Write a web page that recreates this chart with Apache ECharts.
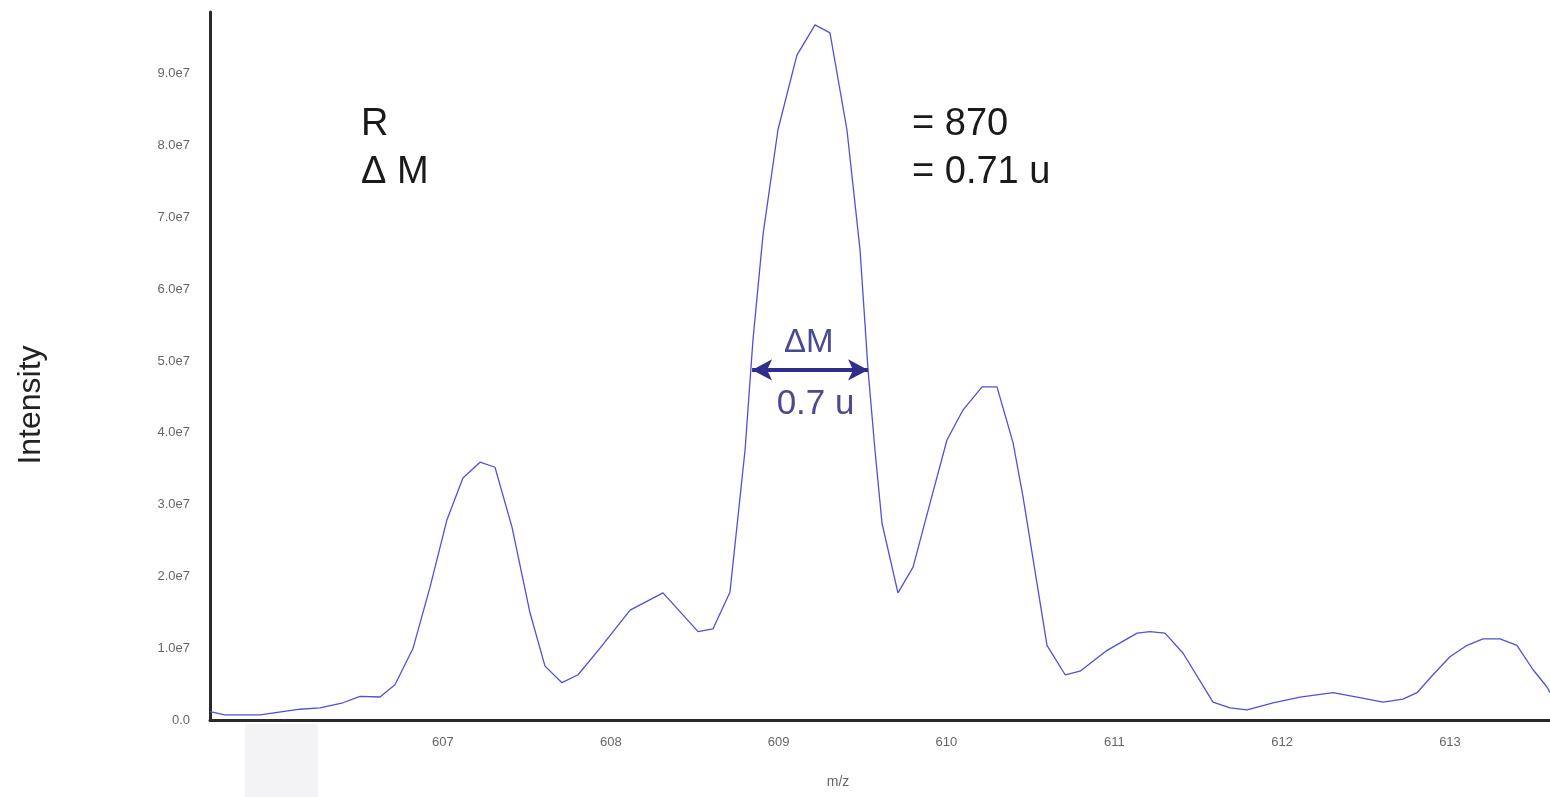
<!DOCTYPE html>
<html lang="en">
<head>
<meta charset="UTF-8">
<title>Intensity vs m/z</title>
<style>
  html, body { margin: 0; padding: 0; background: #fff; }
  #main { width: 1550px; height: 797px; }
</style>
</head>
<body>
<div id="main"></div>
<script src="https://cdn.jsdelivr.net/npm/echarts@6/dist/echarts.min.js"></script>
<script>
// m/z positions of the profile points
var mz = [
  605.612, 605.701, 605.910, 606.148, 606.267, 606.404, 606.506, 606.625, 606.714, 606.822,
  606.923, 607.024, 607.119, 607.221, 607.310, 607.411, 607.519, 607.608, 607.709, 607.805,
  607.936, 608.115, 608.311, 608.520, 608.609, 608.710, 608.800, 608.847, 608.907, 608.996,
  609.109, 609.217, 609.306, 609.407, 609.485, 609.533, 609.574, 609.616, 609.711, 609.801,
  609.902, 610.003, 610.099, 610.212, 610.301, 610.397, 610.456, 610.599, 610.707, 610.796,
  610.957, 611.136, 611.213, 611.302, 611.410, 611.588, 611.689, 611.791, 611.946, 612.107,
  612.303, 612.446, 612.601, 612.720, 612.804, 612.899, 613.000, 613.102, 613.197, 613.298,
  613.399, 613.495, 613.578, 613.596
];
// intensity at each point
var intensity = [
  1.16e6, 0.70e6, 0.70e6, 1.5e6, 1.7e6, 2.4e6, 3.3e6, 3.2e6, 4.9e6, 1.00e7,
  1.85e7, 2.79e7, 3.37e7, 3.59e7, 3.52e7, 2.69e7, 1.49e7, 7.5e6, 5.2e6, 6.3e6,
  1.00e7, 1.53e7, 1.77e7, 1.23e7, 1.27e7, 1.78e7, 3.76e7, 5.29e7, 6.76e7, 8.22e7,
  9.26e7, 9.68e7, 9.57e7, 8.22e7, 6.55e7, 4.87e7, 3.76e7, 2.74e7, 1.77e7, 2.13e7,
  3.02e7, 3.90e7, 4.32e7, 4.64e7, 4.64e7, 3.86e7, 3.11e7, 1.04e7, 6.3e6, 6.8e6,
  9.7e6, 1.21e7, 1.23e7, 1.21e7, 9.3e6, 2.5e6, 1.7e6, 1.4e6, 2.4e6, 3.2e6,
  3.8e6, 3.2e6, 2.5e6, 2.9e6, 3.8e6, 6.3e6, 8.8e6, 1.04e7, 1.13e7, 1.13e7,
  1.04e7, 7.0e6, 4.6e6, 3.8e6
];
var xTicks = [607, 608, 609, 610, 611, 612, 613];
// width of the main peak (arrow ends and height)
var fwhm = [[608.842, 4.875e7], [609.533, 4.875e7]];

var points = [];
for (var i = 0; i < mz.length; i++) points.push([mz[i], intensity[i]]);

var font = '"Liberation Sans", Arial, sans-serif';
var myChart = echarts.init(document.getElementById('main'));
var option = {
  animation: false,
  grid: { left: 210, right: 0, top: 12, bottom: 77 },
  xAxis: {
    type: 'value',
    min: 605.612,
    max: 613.596,
    axisLine: { lineStyle: { color: '#2a2a2a', width: 3 } },
    axisTick: { show: false },
    splitLine: { show: false },
    axisLabel: {
      customValues: xTicks,
      color: '#666',
      fontFamily: font,
      fontSize: 13,
      margin: 16
    }
  },
  yAxis: {
    type: 'value',
    min: 0,
    max: 9.86e7,
    interval: 1e7,
    axisLine: { show: true, lineStyle: { color: '#2a2a2a', width: 3 } },
    axisTick: { show: false },
    splitLine: { show: false },
    axisLabel: {
      showMaxLabel: false,
      color: '#666',
      fontFamily: font,
      fontSize: 13,
      margin: 20,
      formatter: function (v) {
        return v === 0 ? '0.0' : (v / 1e7).toFixed(1) + 'e7';
      }
    }
  },
  series: [{
    type: 'line',
    data: points,
    showSymbol: false,
    lineStyle: { color: '#5050d8', width: 1.3 },
    markLine: {
      silent: true,
      symbol: ['arrow', 'arrow'],
      symbolSize: [16, 20],
      lineStyle: { color: '#2e2e8c', width: 4, type: 'solid' },
      label: { show: false },
      data: [[{ coord: fwhm[0] }, { coord: fwhm[1] }]]
    },
    markPoint: {
      silent: true,
      symbolSize: 0,
      label: {
        show: true,
        color: '#4a4a92',
        fontFamily: font
      },
      data: [
        { coord: [609.18, 5.25e7], label: { formatter: 'ΔM', fontSize: 33 } },
        { coord: [609.22, 4.40e7], label: { formatter: '0.7 u', fontSize: 35 } }
      ]
    }
  }],
  graphic: [
    { type: 'rect', left: 245, top: 724, shape: { width: 73, height: 73 }, style: { fill: '#f3f3f5' }, silent: true },
    { type: 'text', left: 361, top: 106, style: { text: 'R', font: '38px ' + font, fill: '#1a1a1a' } },
    { type: 'text', left: 361, top: 154, style: { text: 'Δ M', font: '38px ' + font, fill: '#1a1a1a' } },
    { type: 'text', left: 912, top: 106, style: { text: '= 870', font: '38px ' + font, fill: '#1a1a1a' } },
    { type: 'text', left: 912, top: 154, style: { text: '= 0.71 u', font: '38px ' + font, fill: '#1a1a1a' } },
    { type: 'text', x: 838, y: 782, style: { text: 'm/z', font: '14px ' + font, fill: '#666', align: 'center', verticalAlign: 'middle' } },
    { type: 'text', x: 31, y: 405, rotation: Math.PI / 2, style: { text: 'Intensity', font: '32px ' + font, fill: '#222', align: 'center', verticalAlign: 'middle' } }
  ]
};
myChart.setOption(option);
</script>
</body>
</html>
